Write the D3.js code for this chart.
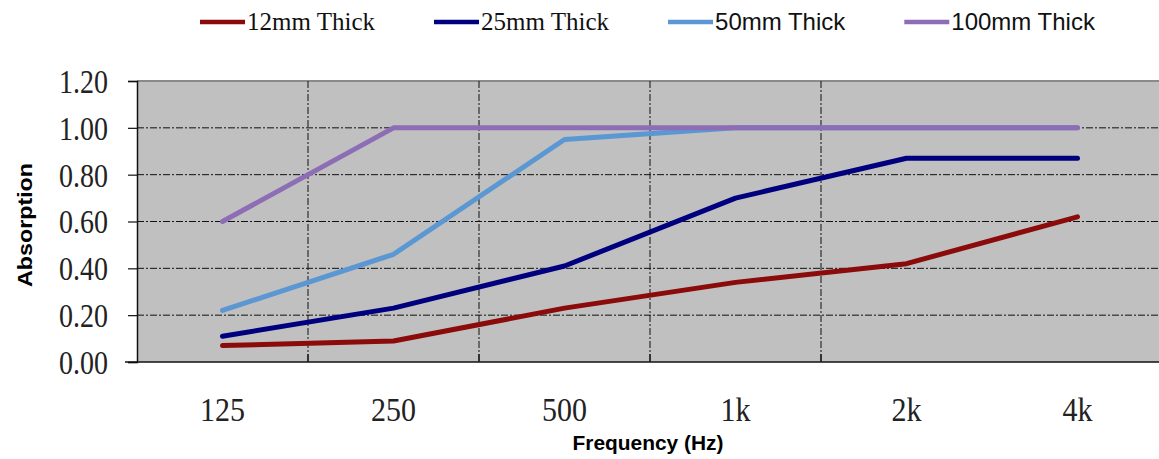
<!DOCTYPE html>
<html>
<head>
<meta charset="utf-8">
<script src="https://cdn.jsdelivr.net/npm/d3@7"></script>
<style>
  body { margin: 0; background: #fff; overflow: hidden; }
  svg { display: block; }
</style>
</head>
<body>
<div id="chart"></div>
<script>
// frequency bands and absorption coefficients
const bands = ["125", "250", "500", "1k", "2k", "4k"];
const thick12 = [0.07, 0.09, 0.23, 0.34, 0.42, 0.62];
const thick25 = [0.11, 0.23, 0.41, 0.70, 0.87, 0.87];
const thick50 = [0.22, 0.46, 0.95, 1.00, 1.00, 1.00];
const thick100 = [0.60, 1.00, 1.00, 1.00, 1.00, 1.00];
const seriesNames = ["12mm Thick", "25mm Thick", "50mm Thick", "100mm Thick"];
const yTicks = [0, 0.2, 0.4, 0.6, 0.8, 1.0, 1.2];

const series = [
    { name: seriesNames[0], values: thick12, color: "#8b0a0a", font: "Liberation Serif", size: 25 },
    { name: seriesNames[1], values: thick25, color: "#00007f", font: "Liberation Serif", size: 25 },
    { name: seriesNames[2], values: thick50, color: "#5b97d3", font: "Liberation Sans", size: 24 },
    { name: seriesNames[3], values: thick100, color: "#8d6db5", font: "Liberation Sans", size: 24 }
];

const width = 1159, height = 459;
const plot = { left: 137, right: 1163, top: 81, bottom: 362 };

const svg = d3.select("#chart").append("svg")
    .attr("width", width)
    .attr("height", height);

const xscale = d3.scaleBand()
    .domain(bands)
    .range([plot.left, plot.right]);

const yscale = d3.scaleLinear()
    .domain([0, 1.2])
    .range([plot.bottom, plot.top]);

// plot background
svg.append("rect")
    .attr("x", plot.left)
    .attr("y", plot.top)
    .attr("width", plot.right - plot.left)
    .attr("height", plot.bottom - plot.top)
    .attr("fill", "#c0c0c0");

svg.append("line")
    .attr("x1", plot.left).attr("x2", plot.right)
    .attr("y1", plot.top).attr("y2", plot.top)
    .attr("stroke", "#8a8a8a")
    .attr("stroke-width", 2);

// horizontal grid
svg.append("g")
    .selectAll("line")
    .data(yTicks.filter(t => t > 0 && t < 1.2))
    .enter()
    .append("line")
    .attr("x1", plot.left).attr("x2", plot.right)
    .attr("y1", d => yscale(d)).attr("y2", d => yscale(d))
    .attr("stroke", "#111")
    .attr("stroke-width", 1)
    .attr("stroke-dasharray", "7,2,2,2");

// vertical grid between bands (the last one is not drawn in the original)
const bounds = bands.slice(1, bands.length - 1).map(b => xscale(b));
svg.append("g")
    .selectAll("line")
    .data(bounds)
    .enter()
    .append("line")
    .attr("x1", d => d).attr("x2", d => d)
    .attr("y1", plot.top).attr("y2", plot.bottom)
    .attr("stroke", "#111")
    .attr("stroke-width", 1)
    .attr("stroke-dasharray", "7,2,2,2");

// x ticks, inside
svg.append("g")
    .selectAll("line")
    .data(bounds)
    .enter()
    .append("line")
    .attr("x1", d => d).attr("x2", d => d)
    .attr("y1", plot.bottom - 8).attr("y2", plot.bottom)
    .attr("stroke", "#111")
    .attr("stroke-width", 1.2);

// y axis
const yaxis = d3.axisLeft(yscale)
    .tickValues(yTicks)
    .tickSize(9)
    .tickPadding(20)
    .tickFormat(d3.format(".2f"));

const yg = svg.append("g")
    .attr("transform", `translate(${plot.left},0)`)
    .call(yaxis);
yg.select(".domain").attr("stroke", "#111").attr("stroke-width", 1.5);
yg.selectAll(".tick line").attr("stroke", "#111").attr("stroke-width", 1.2);
// the original glyphs are drawn taller than wide
yg.selectAll(".tick text")
    .attr("fill", "#222")
    .attr("transform", "scale(1,1.2)")
    .style("font-family", "Liberation Serif, serif")
    .style("font-size", "28px")
    .attr("dy", "0.34em");

// x axis line
svg.append("line")
    .attr("x1", 125).attr("x2", plot.right)
    .attr("y1", plot.bottom).attr("y2", plot.bottom)
    .attr("stroke", "#111")
    .attr("stroke-width", 1.5);

svg.append("g")
    .selectAll("text")
    .data(bands)
    .enter()
    .append("text")
    .attr("transform", d => `translate(${xscale(d) + xscale.bandwidth() / 2},421) scale(1,1.15)`)
    .attr("text-anchor", "middle")
    .attr("fill", "#222")
    .style("font-family", "Liberation Serif, serif")
    .style("font-size", "30px")
    .text(d => d);

// axis titles
svg.append("text")
    .attr("x", 648)
    .attr("y", 450)
    .attr("text-anchor", "middle")
    .attr("textLength", 151)
    .attr("lengthAdjust", "spacingAndGlyphs")
    .style("font-family", "Liberation Sans, Arial, sans-serif")
    .style("font-weight", "bold")
    .style("font-size", "21px")
    .text("Frequency (Hz)");

svg.append("text")
    .attr("transform", "translate(32,225) rotate(-90)")
    .attr("text-anchor", "middle")
    .attr("textLength", 124)
    .attr("lengthAdjust", "spacingAndGlyphs")
    .style("font-family", "Liberation Sans, Arial, sans-serif")
    .style("font-weight", "bold")
    .style("font-size", "20px")
    .text("Absorption");

// lines
const line = d3.line()
    .x((d, i) => xscale(bands[i]) + xscale.bandwidth() / 2)
    .y(d => yscale(d));

svg.append("g")
    .selectAll("path")
    .data(series)
    .enter()
    .append("path")
    .attr("d", d => line(d.values))
    .attr("fill", "none")
    .attr("stroke", d => d.color)
    .attr("stroke-width", 5)
    .attr("stroke-linejoin", "round")
    .attr("stroke-linecap", "round");

// legend
const legend = svg.append("g").attr("transform", "translate(200, 22)");
let lx = 0;
series.forEach(s => {
    const item = legend.append("g").attr("transform", `translate(${lx},0)`);
    item.append("line")
        .attr("x1", 0).attr("x2", 45)
        .attr("y1", 0).attr("y2", 0)
        .attr("stroke", s.color)
        .attr("stroke-width", 4.5);
    const t = item.append("text")
        .attr("x", 47)
        .attr("y", 8)
        .style("font-family", s.font)
        .style("font-size", s.size + "px")
        .attr("fill", "#111")
        .text(s.name);
    lx += 47 + t.node().getComputedTextLength() + 59;
});
</script>
</body>
</html>
